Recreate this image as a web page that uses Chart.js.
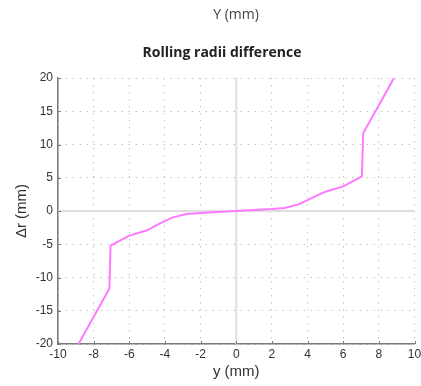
<!DOCTYPE html>
<html lang="en">
<head>
    <meta charset="UTF-8">
    <title>Rolling radii difference</title>
    <script src="https://cdn.jsdelivr.net/npm/chart.js"></script>
    <style>
        html, body { margin: 0; padding: 0; background: #fff; }
        #wrap { width: 421px; height: 386px; }
    </style>
</head>
<body>
    <div id="wrap"><canvas id="rrd"></canvas></div>

    <script>
        // lateral displacement y (mm) and rolling radii difference Δr (mm)
        const yMm = [-8.85, -7.12, -7.05, -6.0, -5.0, -4.3, -3.6, -2.8, -2.0, -1.0, 0, 1.0, 2.0, 2.7, 3.5, 4.2, 5.0, 6.0, 7.05, 7.12, 8.85];
        const deltaR = [-20, -11.7, -5.2, -3.7, -2.9, -1.9, -1.0, -0.45, -0.3, -0.15, 0, 0.15, 0.3, 0.45, 1.0, 1.9, 2.9, 3.7, 5.2, 11.7, 20];
        const xTicks = [-10, -8, -6, -4, -2, 0, 2, 4, 6, 8, 10];
        const yTicks = [-20, -15, -10, -5, 0, 5, 10, 15, 20];

        const axisGrey = '#7a7a7a';
        const tickFont = { family: 'Liberation Sans', size: 12 };
        const titleFont = { family: 'Liberation Sans', size: 15 };

        // titles above the plot, inward tick marks and the zero lines
        const decorations = {
            id: 'decorations',
            beforeDatasetsDraw(chart) {
                const { ctx, chartArea: a, scales: { x, y } } = chart;
                ctx.save();
                ctx.strokeStyle = '#dedede';
                ctx.lineWidth = 2;
                ctx.beginPath();
                ctx.moveTo(x.getPixelForValue(0), a.top);
                ctx.lineTo(x.getPixelForValue(0), a.bottom);
                ctx.moveTo(a.left, y.getPixelForValue(0));
                ctx.lineTo(a.right, y.getPixelForValue(0));
                ctx.stroke();
                ctx.restore();
            },
            afterDraw(chart) {
                const { ctx, chartArea: a, scales: { x, y } } = chart;
                ctx.save();
                ctx.strokeStyle = axisGrey;
                ctx.lineWidth = 1;
                ctx.beginPath();
                xTicks.forEach(v => {
                    const px = Math.round(x.getPixelForValue(v)) + 0.5;
                    ctx.moveTo(px, a.bottom);
                    ctx.lineTo(px, a.bottom - 3);
                });
                yTicks.forEach(v => {
                    const py = Math.round(y.getPixelForValue(v)) + 0.5;
                    ctx.moveTo(a.left, py);
                    ctx.lineTo(a.left + 3, py);
                });
                ctx.stroke();

                ctx.textAlign = 'center';
                ctx.textBaseline = 'middle';
                ctx.fillStyle = '#444';
                ctx.font = '14px "Open Sans"';
                ctx.fillText('Y (mm)', 236, 15);
                ctx.fillStyle = '#222';
                ctx.font = 'bold 14px "Open Sans"';
                ctx.fillText('Rolling radii difference', 222, 53);
                ctx.restore();
            }
        };

        new Chart(document.getElementById('rrd'), {
            type: 'scatter',
            data: {
                datasets: [{
                    data: yMm.map((v, i) => ({ x: v, y: deltaR[i] })),
                    showLine: true,
                    borderColor: '#ff78ff',
                    borderWidth: 2,
                    pointRadius: 0,
                    tension: 0
                }]
            },
            options: {
                responsive: true,
                maintainAspectRatio: false,
                animation: false,
                layout: { padding: { top: 78, right: 6.5, bottom: 0, left: 0 } },
                plugins: {
                    legend: { display: false },
                    tooltip: { enabled: false }
                },
                scales: {
                    x: {
                        type: 'linear',
                        min: -10,
                        max: 10,
                        afterFit(scale) {
                            scale.height = 42;
                            scale.paddingLeft = 0;
                            scale.paddingRight = 0;
                        },
                        afterBuildTicks(scale) { scale.ticks = xTicks.map(v => ({ value: v })); },
                        ticks: { color: '#333', font: tickFont, padding: 3, maxRotation: 0 },
                        grid: { color: '#c4c4c4', lineWidth: 1, drawTicks: false },
                        border: { color: axisGrey, width: 1.5, dash: [1.5, 5.5] },
                        title: {
                            display: true,
                            text: 'y (mm)',
                            color: '#333',
                            font: titleFont,
                            padding: { top: 0, bottom: 5 }
                        }
                    },
                    y: {
                        type: 'linear',
                        min: -20,
                        max: 20,
                        afterFit(scale) {
                            scale.width = 58;
                            scale.paddingTop = 0;
                            scale.paddingBottom = 0;
                        },
                        afterBuildTicks(scale) { scale.ticks = yTicks.map(v => ({ value: v })); },
                        ticks: { color: '#333', font: tickFont, padding: 5 },
                        grid: { color: '#c4c4c4', lineWidth: 1, drawTicks: false },
                        border: { color: axisGrey, width: 1.5, dash: [1.5, 5.5] },
                        title: {
                            display: true,
                            text: 'Δr (mm)',
                            color: '#333',
                            font: titleFont,
                            padding: { top: 13, bottom: 0 }
                        }
                    }
                }
            },
            plugins: [decorations]
        });
    </script>
</body>
</html>
